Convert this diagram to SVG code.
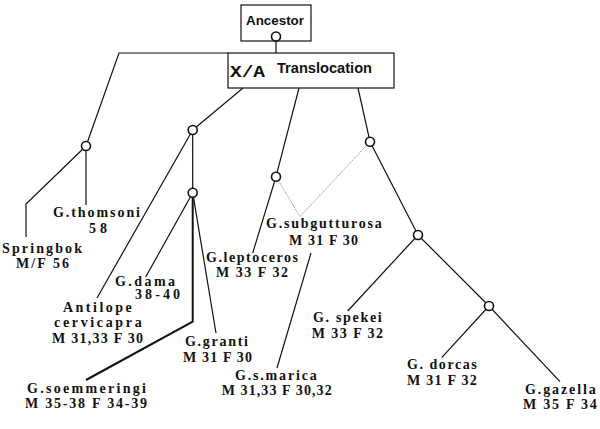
<svg xmlns="http://www.w3.org/2000/svg" width="600" height="429" viewBox="0 0 600 429">
<style>
.ln{stroke:#111;stroke-width:1.2;fill:none}
.thick{stroke:#111;stroke-width:2;fill:none}
.dot{stroke:#999;stroke-width:1;fill:none;stroke-dasharray:1.5 1}
.box{fill:#fff;stroke:#111;stroke-width:1.2}
.nd{fill:#fff;stroke:#111;stroke-width:1.6}
.hd{font-family:"Liberation Sans",Arial,sans-serif;font-weight:bold;font-size:13px;fill:#111}
.mono{font-family:"Liberation Mono","Courier New",monospace;font-weight:bold;font-size:16px;fill:#111}
.lb{font-family:"Liberation Serif","Times New Roman",serif;font-weight:bold;font-size:14px;fill:#111}
</style>
<rect width="600" height="429" fill="#fff"/>
<g id="connectors">
<line class="ln" x1="276" y1="41" x2="276" y2="53"/>
<polyline class="ln" points="228,53 119,53 86,146"/>
<polyline class="ln" points="86,146 26,204 26,237"/>
<line class="ln" x1="86" y1="146" x2="86" y2="205"/>
<line class="ln" x1="243" y1="88" x2="192.7" y2="130"/>
<line class="ln" x1="192.7" y1="130" x2="97" y2="298"/>
<line class="ln" x1="192.7" y1="130" x2="192.7" y2="192.7"/>
<line class="ln" x1="192.7" y1="192.7" x2="145.7" y2="277"/>
<line class="ln" x1="192.7" y1="192.7" x2="216" y2="333"/>
<polyline class="thick" points="192.7,192.7 192.7,321.7 86,380"/>
<line class="ln" x1="299" y1="88" x2="276" y2="176.7"/>
<line class="ln" x1="276" y1="176.7" x2="252.7" y2="253"/>
<polyline class="dot" points="276,176.7 300,216.7 370,141.7"/>
<line class="ln" x1="358" y1="88" x2="370" y2="141.7"/>
<line class="ln" x1="370" y1="141.7" x2="418" y2="235"/>
<line class="ln" x1="418" y1="235" x2="347.7" y2="311"/>
<line class="ln" x1="418" y1="235" x2="489" y2="306"/>
<line class="ln" x1="489" y1="306" x2="441.7" y2="357.7"/>
<line class="ln" x1="489" y1="306" x2="560" y2="381.7"/>
<line class="ln" x1="311" y1="253" x2="277" y2="368"/>
</g>
<g id="ancestor">
<rect class="box" x="241" y="5" width="70" height="36"/>
<text class="hd" x="246" y="24.5" style="font-size:13.5px" textLength="58" lengthAdjust="spacingAndGlyphs">Ancestor</text>
<circle class="nd" cx="276" cy="36.5" r="4.5"/>
</g>
<g id="translocation">
<rect class="box" x="228" y="53" width="166" height="35"/>
<text class="mono" x="230" y="77" textLength="35" lengthAdjust="spacingAndGlyphs">X/A</text>
<text class="hd" x="277" y="73" style="font-size:14.5px" textLength="95" lengthAdjust="spacingAndGlyphs">Translocation</text>
</g>
<g id="nodeA"><circle class="nd" cx="86" cy="146" r="4.5"/></g>
<g id="nodeB"><circle class="nd" cx="192.7" cy="130" r="4.5"/></g>
<g id="nodeC"><circle class="nd" cx="192.7" cy="192.7" r="4.5"/></g>
<g id="nodeD"><circle class="nd" cx="276" cy="176.7" r="4.5"/></g>
<g id="nodeE"><circle class="nd" cx="370" cy="141.7" r="4.5"/></g>
<g id="nodeF"><circle class="nd" cx="418" cy="235" r="4.5"/></g>
<g id="nodeG"><circle class="nd" cx="489" cy="306" r="4.5"/></g>
<g id="thomsoni">
<text class="lb" x="53" y="216.7" textLength="87" lengthAdjust="spacing">G.thomsoni</text>
<text class="lb" x="89" y="232.7" textLength="18" lengthAdjust="spacing">58</text>
</g>
<g id="springbok">
<text class="lb" x="2" y="252.7" textLength="80" lengthAdjust="spacing">Springbok</text>
<text class="lb" x="16" y="268" textLength="53" lengthAdjust="spacing">M/F 56</text>
</g>
<g id="dama">
<text class="lb" x="115" y="286" textLength="60" lengthAdjust="spacing">G.dama</text>
<text class="lb" x="135" y="298.5" textLength="45" lengthAdjust="spacing">38-40</text>
</g>
<g id="antilope">
<text class="lb" x="63" y="311.7" textLength="68.7" lengthAdjust="spacing">Antilope</text>
<text class="lb" x="54" y="326.7" textLength="87.7" lengthAdjust="spacing">cervicapra</text>
<text class="lb" x="52" y="343" textLength="91" lengthAdjust="spacing">M 31,33 F 30</text>
</g>
<g id="granti">
<text class="lb" x="185" y="346" textLength="63" lengthAdjust="spacing">G.granti</text>
<text class="lb" x="183" y="361.7" textLength="69" lengthAdjust="spacing">M 31 F 30</text>
</g>
<g id="soemmeringi">
<text class="lb" x="27" y="392.7" textLength="119" lengthAdjust="spacing">G.soemmeringi</text>
<text class="lb" x="25" y="408.3" textLength="122" lengthAdjust="spacing">M 35-38 F 34-39</text>
</g>
<g id="subgutturosa">
<text class="lb" x="266" y="228.3" textLength="115.7" lengthAdjust="spacing">G.subgutturosa</text>
<text class="lb" x="289" y="245" textLength="69" lengthAdjust="spacing">M 31 F 30</text>
</g>
<g id="leptoceros">
<text class="lb" x="206" y="261.7" textLength="92" lengthAdjust="spacing">G.leptoceros</text>
<text class="lb" x="216" y="277.3" textLength="72" lengthAdjust="spacing">M 33 F 32</text>
</g>
<g id="marica">
<text class="lb" x="235" y="380" textLength="81.7" lengthAdjust="spacing">G.s.marica</text>
<text class="lb" x="221.7" y="395" textLength="110" lengthAdjust="spacing">M 31,33 F 30,32</text>
</g>
<g id="spekei">
<text class="lb" x="313" y="322.3" textLength="68.7" lengthAdjust="spacing">G. spekei</text>
<text class="lb" x="311.7" y="338.3" textLength="71.3" lengthAdjust="spacing">M 33 F 32</text>
</g>
<g id="dorcas">
<text class="lb" x="407" y="369" textLength="69.7" lengthAdjust="spacing">G. dorcas</text>
<text class="lb" x="407" y="385" textLength="69.7" lengthAdjust="spacing">M 31 F 32</text>
</g>
<g id="gazella">
<text class="lb" x="525" y="394.3" textLength="70.7" lengthAdjust="spacing">G.gazella</text>
<text class="lb" x="523" y="409.3" textLength="73.7" lengthAdjust="spacing">M 35 F 34</text>
</g>
</svg>
